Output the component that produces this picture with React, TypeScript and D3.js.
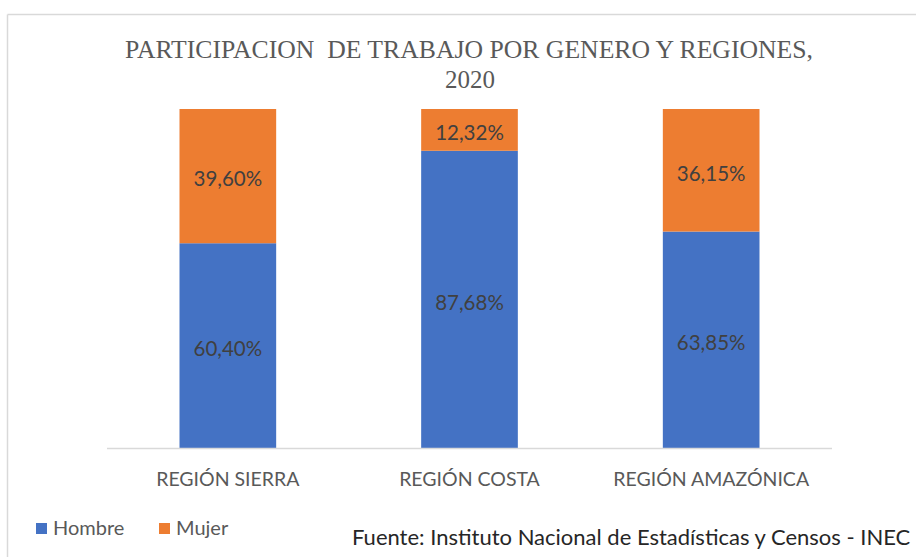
import React from 'react';
import * as d3 from 'd3';

const WIDTH = 916;
const HEIGHT = 557;

const regions = ['REGIÓN SIERRA', 'REGIÓN COSTA', 'REGIÓN AMAZÓNICA'];
const hombre = [60.4, 87.68, 63.85];
const mujer = [39.6, 12.32, 36.15];
const seriesNames = ['Hombre', 'Mujer'];
const colors = ['#4472C4', '#ED7D31'];

const margin = { l: 107, r: 84, t: 109, b: 109 };

const fmt = (v: number) => v.toFixed(2).replace('.', ',') + '%';

const App = () => {
  const xScale = d3
    .scaleBand<string>()
    .domain(regions)
    .range([margin.l, WIDTH - margin.r])
    .paddingInner(0.6)
    .paddingOuter(0.3);
  const yScale = d3
    .scaleLinear()
    .domain([0, 100])
    .range([HEIGHT - margin.b, margin.t]);

  const rows = regions.map((r, i) => ({ region: r, Hombre: hombre[i], Mujer: mujer[i] }));
  const stacked = d3.stack<any>().keys(seriesNames)(rows);

  const sans = 'Lato, "Open Sans", sans-serif';
  const serif = '"Liberation Serif", "Times New Roman", serif';

  return (
    <svg
      width={WIDTH}
      height={HEIGHT}
      viewBox={`0 0 ${WIDTH} ${HEIGHT}`}
      style={{ position: 'absolute', left: 0, top: 0, background: '#fff' }}
    >
      {/* chart frame */}
      <line x1={7.5} y1={14.5} x2={WIDTH} y2={14.5} stroke="#d9d9d9" strokeWidth={1.5} />
      <line x1={7.5} y1={14.5} x2={7.5} y2={HEIGHT} stroke="#d9d9d9" strokeWidth={1.5} />

      <text
        x={125}
        y={58}
        fontFamily={serif}
        fontSize={25}
        fill="#595959"
        textLength={688}
        lengthAdjust="spacingAndGlyphs"
        style={{ whiteSpace: 'pre' }}
      >
        {'PARTICIPACION  DE TRABAJO POR GENERO Y REGIONES,'}
      </text>
      <text x={470} y={88} textAnchor="middle" fontFamily={serif} fontSize={25} fill="#595959">
        2020
      </text>

      {stacked.map((layer, si) => (
        <g key={layer.key}>
          {layer.map((d, i) => (
            <rect
              key={i}
              x={xScale(regions[i])}
              y={yScale(d[1])}
              width={xScale.bandwidth()}
              height={yScale(d[0]) - yScale(d[1])}
              fill={colors[si]}
            />
          ))}
          {layer.map((d, i) => (
            <text
              key={'t' + i}
              x={(xScale(regions[i]) as number) + xScale.bandwidth() / 2}
              y={(yScale(d[0]) + yScale(d[1])) / 2}
              dy="0.5em"
              textAnchor="middle"
              fontFamily={sans}
              fontSize={20.5}
              fill="#404040"
            >
              {fmt(d[1] - d[0])}
            </text>
          ))}
        </g>
      ))}

      <line
        x1={margin.l}
        x2={WIDTH - margin.r}
        y1={yScale(0) + 0.5}
        y2={yScale(0) + 0.5}
        stroke="#d9d9d9"
        strokeWidth={1.5}
      />
      {regions.map((r) => (
        <text
          key={r}
          x={(xScale(r) as number) + xScale.bandwidth() / 2}
          y={486}
          textAnchor="middle"
          fontFamily={sans}
          fontSize={19.5}
          fill="#595959"
        >
          {r}
        </text>
      ))}

      {seriesNames.map((s, i) => (
        <g key={s} transform={`translate(${36 + i * 123}, 523)`}>
          <rect x={0} y={0} width={11} height={11} fill={colors[i]} />
          <text x={17} y={12} fontFamily={sans} fontSize={20} fill="#595959">
            {s}
          </text>
        </g>
      ))}

      <text x={352} y={545} fontFamily={sans} fontSize={22} fill="#262626">
        Fuente: Instituto Nacional de Estadísticas y Censos - INEC
      </text>
    </svg>
  );
};

export default App;
